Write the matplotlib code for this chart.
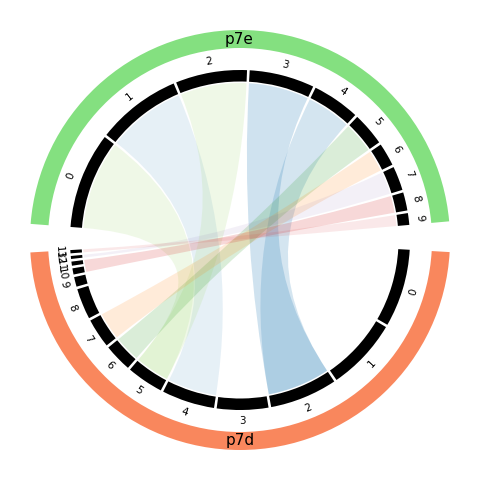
import numpy as np
import matplotlib
matplotlib.use("Agg")
import matplotlib.pyplot as plt
from matplotlib.patches import Wedge, PathPatch
from matplotlib.path import Path

# sectors and their segments (segment sizes)
sector_names = ["p7e", "p7d"]
sector_colors = ["#84e080", "#f9875d"]
p7e_sizes = [32.7, 28.7, 24.3, 22.1, 16.2, 11.3, 7.8, 8.2, 6.2, 4.0]
p7d_sizes = [26.5, 24.5, 23.0, 17.5, 18.0, 12.5, 9.5, 10.0, 10.5, 3.3, 2.1, 1.4, 1.0, 1.1]

# links: p7e segment -> p7d segment range
link_src = [0, 1, 2, 3, 4, 5, 6, 7, 8, 9]
link_dst = [(5, 5), (4, 4), (5, 5), (2, 2), (2, 2), (6, 6), (7, 7), (12, 12), (10, 11), (13, 13)]
link_color = ["#b2df8a", "#1f78b4", "#b2df8a", "#1f78b4", "#1f78b4",
              "#33a02c", "#ff7f00", "#6a3d9a", "#d62728", "#d62728"]
link_alpha = [0.2, 0.11, 0.2, 0.21, 0.19, 0.18, 0.15, 0.075, 0.18, 0.1]

sector_start = [175.6, -3.3]
sector_span = [170.5, 173.3]
gap = 0.9


def seg_angles(start, span, sizes):
    scale = (span - gap * (len(sizes) - 1)) / sum(sizes)
    out = []
    a = start
    for s in sizes:
        out.append((a, a - s * scale))
        a = a - s * scale - gap
    return out


def pol(r, deg):
    t = np.deg2rad(deg)
    return r * np.cos(t), r * np.sin(t)


def arc(r, d1, d2, n=40):
    return [pol(r, d) for d in np.linspace(d1, d2, n)]


fig = plt.figure(figsize=(4.8, 4.8), dpi=100)
ax = fig.add_axes([0, 0, 1, 1])
ax.set_xlim(-240, 240)
ax.set_ylim(-240, 240)
ax.set_aspect("equal")
ax.axis("off")

segs = [seg_angles(sector_start[0], sector_span[0], p7e_sizes),
        seg_angles(sector_start[1], sector_span[1], p7d_sizes)]

# outer sector rings + names
for i, name in enumerate(sector_names):
    a1 = sector_start[i]
    a2 = a1 - sector_span[i]
    ax.add_patch(Wedge((0, 0), 210, a2, a1, width=18, color=sector_colors[i], lw=0))
    mid = (a1 + a2) / 2
    x, y = pol(201, mid)
    ax.text(x, y, name, ha="center", va="center", fontsize=11)

# black segments + labels
for sg in segs:
    for k, (a1, a2) in enumerate(sg):
        ax.add_patch(Wedge((0, 0), 170, a2, a1, width=11.5, color="black", lw=0))
        mid = (a1 + a2) / 2
        x, y = pol(181, mid)
        rot = mid - 90 if np.sin(np.deg2rad(mid)) > 0 else mid + 90
        ax.text(x, y, str(k), ha="center", va="center", rotation=rot,
                rotation_mode="anchor", fontsize=7.5)

# chords
R = 157
for s, (d1, d2), c, al in zip(link_src, link_dst, link_color, link_alpha):
    a1, a2 = segs[0][s]
    b1 = segs[1][d1][0]
    b2 = segs[1][d2][1]
    verts = arc(R, a1, a2)
    codes = [Path.MOVETO] + [Path.LINETO] * (len(verts) - 1)
    verts += [(0, 0), pol(R, b1)]
    codes += [Path.CURVE3, Path.CURVE3]
    pts = arc(R, b1, b2)[1:]
    verts += pts
    codes += [Path.LINETO] * len(pts)
    verts += [(0, 0), pol(R, a1)]
    codes += [Path.CURVE3, Path.CURVE3]
    verts.append(pol(R, a1))
    codes.append(Path.CLOSEPOLY)
    ax.add_patch(PathPatch(Path(verts, codes), facecolor=c, alpha=al, lw=0))

fig.savefig("out.png", dpi=100)
